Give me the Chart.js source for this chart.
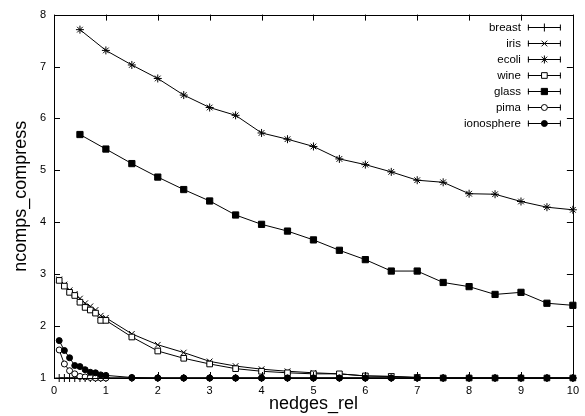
<!DOCTYPE html>
<html>
<head>
<meta charset="utf-8">
<script src="https://cdn.jsdelivr.net/npm/chart.js@4/dist/chart.umd.min.js"></script>
<style>
  html, body { margin: 0; padding: 0; background: #fff; }
  #wrap { width: 585px; height: 416px; }
</style>
</head>
<body>
<div id="wrap"><canvas id="chart" width="585" height="416"></canvas></div>
<script>
// x positions: dense runs (0.1 .. 1, then every 0.5) and half steps only
const xDense = [0.1, 0.2, 0.3, 0.4, 0.5, 0.6, 0.7, 0.8, 0.9, 1.0,
  1.5, 2, 2.5, 3, 3.5, 4, 4.5, 5, 5.5, 6, 6.5, 7, 7.5, 8, 8.5, 9, 9.5, 10];
const xHalf = [0.5, 1, 1.5, 2, 2.5, 3, 3.5, 4, 4.5, 5, 5.5, 6, 6.5, 7, 7.5, 8, 8.5, 9, 9.5, 10];

const breast = [1.0, 1.0, 1.0, 1.0, 1.0, 1.0, 1.0, 1.0, 1.0, 1.0,
  1.0, 1.0, 1.0, 1.0, 1.0, 1.0, 1.0, 1.0, 1.0, 1.0, 1.0, 1.0, 1.0, 1.0, 1.0, 1.0, 1.0, 1.0];
const iris = [2.90, 2.80, 2.69, 2.62, 2.53, 2.44, 2.38, 2.31, 2.20, 2.16,
  1.85, 1.64, 1.49, 1.32, 1.23, 1.17, 1.13, 1.10, 1.08, 1.04, 1.03, 1.01, 1.0, 1.0, 1.0, 1.0, 1.0, 1.0];
const ecoli = [7.71, 7.31, 7.03, 6.77, 6.45, 6.21, 6.06, 5.72, 5.60, 5.46,
  5.22, 5.11, 4.97, 4.81, 4.77, 4.55, 4.54, 4.40, 4.29, 4.24];
const wine = [2.88, 2.77, 2.65, 2.59, 2.46, 2.36, 2.31, 2.25, 2.11, 2.11,
  1.79, 1.52, 1.38, 1.27, 1.18, 1.13, 1.10, 1.08, 1.08, 1.04, 1.03, 1.01, 1.0, 1.0, 1.0, 1.0, 1.0, 1.0];
const glass = [5.69, 5.41, 5.13, 4.87, 4.63, 4.41, 4.14, 3.96, 3.83, 3.66,
  3.46, 3.28, 3.06, 3.06, 2.84, 2.76, 2.61, 2.65, 2.44, 2.40];
const pima = [1.54, 1.27, 1.14, 1.08, 1.03, 1.02, 1.01, 1.0, 1.0, 1.0,
  1.0, 1.0, 1.0, 1.0, 1.0, 1.0, 1.0, 1.0, 1.0, 1.0, 1.0, 1.0, 1.0, 1.0, 1.0, 1.0, 1.0, 1.0];
const ionosphere = [1.72, 1.53, 1.39, 1.24, 1.22, 1.16, 1.11, 1.10, 1.06, 1.05,
  1.01, 1.0, 1.0, 1.0, 1.0, 1.0, 1.0, 1.0, 1.0, 1.0, 1.0, 1.0, 1.0, 1.0, 1.0, 1.0, 1.0, 1.0];

const xTicks = [0, 1, 2, 3, 4, 5, 6, 7, 8, 9, 10];
const yTicks = [1, 2, 3, 4, 5, 6, 7, 8];

const FONT = '"Liberation Sans", Arial, Helvetica, sans-serif';

const toPts = (xs, ys) => xs.map((x, i) => ({ x: x, y: ys[i] }));

// one dataset per series, all black like gnuplot's mono terminal
// later series are drawn on top (order goes down with the index)
const mk = (label, xs, ys, style, radius, fill, idx) => ({
  label: label,
  data: toPts(xs, ys),
  order: -idx,
  showLine: true,
  borderColor: '#000',
  borderWidth: 1,
  pointStyle: style,
  pointRadius: radius,
  pointHoverRadius: radius,
  pointBorderColor: '#000',
  pointBackgroundColor: fill,
  pointBorderWidth: 1,
  clip: false
});

const datasets = [
  mk('breast', xDense, breast, 'cross', 4, '#000', 0),
  mk('iris', xDense, iris, 'crossRot', 4, '#000', 1),
  mk('ecoli', xHalf, ecoli, 'star', 4, '#000', 2),
  mk('wine', xDense, wine, 'rect', 4, '#fff', 3),
  mk('glass', xHalf, glass, 'rect', 4.4, '#000', 4),
  mk('pima', xDense, pima, 'circle', 3, '#fff', 5),
  mk('ionosphere', xDense, ionosphere, 'circle', 3, '#000', 6)
];

// frame, inward ticks on all four sides, gnuplot-like key
const framePlugin = {
  id: 'frame',
  afterDraw(chart) {
    const ctx = chart.ctx;
    const a = chart.chartArea;
    const xs = chart.scales.x, ys = chart.scales.y;
    ctx.save();
    ctx.strokeStyle = '#000';
    ctx.lineWidth = 1;
    ctx.beginPath();
    ctx.rect(Math.round(a.left) + 0.5, Math.round(a.top) + 0.5,
      Math.round(a.right - a.left), Math.round(a.bottom - a.top));
    ctx.stroke();
    const tl = 6;
    ctx.beginPath();
    xTicks.forEach(v => {
      const px = Math.round(xs.getPixelForValue(v)) + 0.5;
      ctx.moveTo(px, a.bottom); ctx.lineTo(px, a.bottom - tl);
      ctx.moveTo(px, a.top); ctx.lineTo(px, a.top + tl);
    });
    yTicks.forEach(v => {
      const py = Math.round(ys.getPixelForValue(v)) + 0.5;
      ctx.moveTo(a.left, py); ctx.lineTo(a.left + tl, py);
      ctx.moveTo(a.right, py); ctx.lineTo(a.right - tl, py);
    });
    ctx.stroke();

    // key
    ctx.font = '11.5px ' + FONT;
    ctx.fillStyle = '#000';
    ctx.textAlign = 'right';
    ctx.textBaseline = 'middle';
    chart.data.datasets.forEach((ds, i) => {
      const y = Math.round(a.top + 12 + i * 16) + 0.5;
      ctx.fillText(ds.label, a.right - 52, y);
      const x0 = a.right - 45, x1 = a.right - 12;
      ctx.beginPath();
      ctx.moveTo(x0, y); ctx.lineTo(x1, y);
      ctx.moveTo(x0 + 0.5, y - 3); ctx.lineTo(x0 + 0.5, y + 3);
      ctx.moveTo(x1 - 0.5, y - 3); ctx.lineTo(x1 - 0.5, y + 3);
      ctx.stroke();
      if (Chart.helpers && Chart.helpers.drawPoint) {
        ctx.fillStyle = ds.pointBackgroundColor;
        ctx.strokeStyle = '#000';
        Chart.helpers.drawPoint(ctx, {
          pointStyle: ds.pointStyle, radius: ds.pointRadius,
          rotation: 0, borderWidth: 1
        }, (x0 + x1) / 2, y);
        ctx.fillStyle = '#000';
      }
    });
    ctx.restore();
  }
};

Chart.defaults.color = '#000';
Chart.defaults.font.family = FONT;

new Chart(document.getElementById('chart'), {
  type: 'scatter',
  data: { datasets: datasets },
  plugins: [framePlugin],
  options: {
    responsive: false,
    animation: false,
    events: [],
    layout: { padding: { left: 0, right: 9, top: 14, bottom: 0 } },
    plugins: { legend: { display: false }, tooltip: { enabled: false } },
    scales: {
      x: {
        type: 'linear', min: 0, max: 10,
        afterBuildTicks: s => { s.ticks = xTicks.map(v => ({ value: v })); },
        afterFit: s => { s.height = 38; },
        ticks: { font: { size: 11 }, padding: 6, maxRotation: 0 },
        grid: { display: false, drawTicks: false },
        border: { display: false },
        title: { display: true, text: 'nedges_rel', font: { size: 18 }, padding: { top: 0, bottom: 1 } }
      },
      y: {
        type: 'linear', min: 1, max: 8,
        afterBuildTicks: s => { s.ticks = yTicks.map(v => ({ value: v })); },
        afterFit: s => { s.width = 54; },
        ticks: { font: { size: 11 }, padding: 8 },
        grid: { display: false, drawTicks: false },
        border: { display: false },
        title: { display: true, text: 'ncomps_compress', font: { size: 18 }, padding: { top: 10, bottom: 0 } }
      }
    }
  }
});
</script>
</body>
</html>
